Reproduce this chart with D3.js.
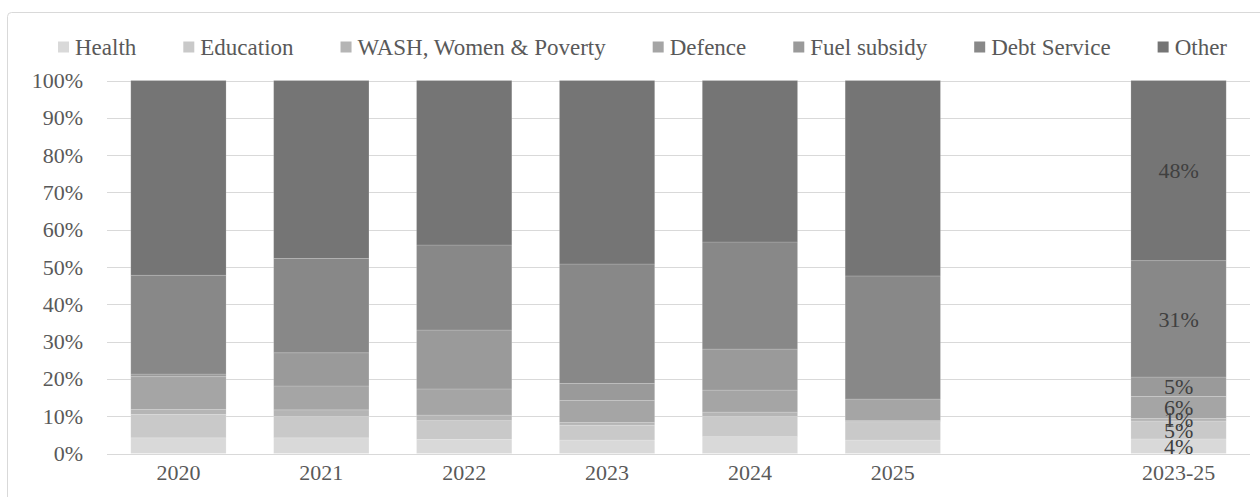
<!DOCTYPE html>
<html>
<head>
<meta charset="utf-8">
<script src="https://cdn.jsdelivr.net/npm/d3@7"></script>
<style>
  html, body { margin: 0; padding: 0; background: #fff; }
  svg { display: block; font-family: "Liberation Serif", "Times New Roman", serif; }
</style>
</head>
<body>
<svg id="chart" width="1260" height="497"></svg>
<script>
// categories along the x axis ("" is the empty spacer slot)
const categories = ['2020', '2021', '2022', '2023', '2024', '2025', '', '2023-25'];
const seriesNames = ['Health', 'Education', 'WASH, Women & Poverty', 'Defence', 'Fuel subsidy', 'Debt Service', 'Other'];
const seriesColors = ['#d9d9d9', '#c9c9c9', '#b5b5b5', '#a5a5a5', '#9a9a9a', '#888888', '#757575'];

// share of spending (%) per series, one value per category
const health    = [4.2, 4.2, 3.8, 3.6, 4.5, 3.6, 0, 3.9];
const education = [6.3, 5.7, 5.0, 4.0, 5.4, 4.9, 0, 4.8];
const wash      = [1.3, 1.8, 1.5, 0.7, 1.2, 0.3, 0, 0.7];
const defence   = [8.8, 6.4, 7.0, 5.9, 5.9, 5.8, 0, 5.9];
const fuel      = [0.7, 8.9, 15.8, 4.6, 11.0, 0.0, 0, 5.2];
const debt      = [26.5, 25.3, 22.8, 32.0, 28.7, 33.0, 0, 31.2];
const other     = [52.2, 47.7, 44.1, 49.2, 43.3, 52.4, 0, 48.3];

// which category gets data labels
const labelledCategory = '2023-25';
const yTicks = [0, 10, 20, 30, 40, 50, 60, 70, 80, 90, 100];

const seriesValues = [health, education, wash, defence, fuel, debt, other];

const svg = d3.select('#chart');
const margin = { left: 107, top: 80.5, bottom: 43.5 };
const plotRight = 1250;
const plotBottom = 497 - margin.bottom;
const fontSize = 22;

// chart outline
svg.append('rect')
  .attr('x', 7.5).attr('y', 12.5)
  .attr('width', 1300).attr('height', 600)
  .attr('rx', 4)
  .attr('fill', 'none')
  .attr('stroke', '#d9d9d9');

// build rows for the stack, normalised to 100%
const rows = categories.map((c, i) => {
  const row = { cat: c, key: c || ('blank' + i) };
  const total = d3.sum(seriesValues, s => s[i]);
  seriesNames.forEach((n, j) => { row[n] = total ? seriesValues[j][i] / total * 100 : 0; });
  return row;
});

const x = d3.scaleBand()
  .domain(rows.map(r => r.key))
  .range([margin.left, plotRight])
  .paddingInner(0.333)
  .paddingOuter(0.1665);

const y = d3.scaleLinear()
  .domain([0, 100])
  .range([plotBottom, margin.top]);

// gridlines
svg.append('g')
  .selectAll('line')
  .data(yTicks)
  .join('line')
  .attr('x1', margin.left).attr('x2', plotRight)
  .attr('y1', d => Math.round(y(d)) + 0.5)
  .attr('y2', d => Math.round(y(d)) + 0.5)
  .attr('stroke', '#d9d9d9')
  .attr('stroke-width', 1);

// y axis labels
const yAxis = d3.axisLeft(y).tickValues(yTicks).tickFormat(d => d + '%').tickSize(0).tickPadding(0);
svg.append('g')
  .attr('transform', `translate(${margin.left - 24},0)`)
  .call(yAxis)
  .call(g => g.select('.domain').remove())
  .call(g => g.selectAll('text')
    .attr('fill', '#595959')
    .attr('font-size', fontSize)
    .attr('font-family', '"Liberation Serif", "Times New Roman", serif'));

// stacked bars
const stack = d3.stack().keys(seriesNames);
const layers = stack(rows);

const layerG = svg.append('g')
  .selectAll('g')
  .data(layers)
  .join('g')
  .attr('fill', (d, i) => seriesColors[i]);

layerG.selectAll('rect')
  .data(d => d)
  .join('rect')
  .attr('x', d => x(d.data.key))
  .attr('width', x.bandwidth())
  .attr('y', d => y(d[1]))
  .attr('height', d => y(d[0]) - y(d[1]))
  .attr('stroke', '#ffffff')
  .attr('stroke-opacity', 0.2)
  .attr('stroke-width', 0.8);

// data labels for the average bar
layers.forEach(layer => {
  const d = layer.find(p => p.data.cat === labelledCategory);
  if (!d) return;
  const v = d[1] - d[0];
  svg.append('text')
    .attr('x', x(d.data.key) + x.bandwidth() / 2)
    .attr('y', (y(d[0]) + y(d[1])) / 2)
    .attr('dy', '0.35em')
    .attr('text-anchor', 'middle')
    .attr('font-size', fontSize)
    .attr('fill', '#404040')
    .text(Math.round(v) + '%');
});

// x axis labels
const xAxis = d3.axisBottom(x).tickFormat(k => rows.find(r => r.key === k).cat).tickSize(0).tickPadding(0);
svg.append('g')
  .attr('transform', `translate(0,${plotBottom + 11})`)
  .call(xAxis)
  .call(g => g.select('.domain').remove())
  .call(g => g.selectAll('text')
    .attr('fill', '#595959')
    .attr('font-size', fontSize)
    .attr('font-family', '"Liberation Serif", "Times New Roman", serif'));

// legend, spread between the first and last item positions
const legendLeft = 58, legendRight = 1227, legendY = 47;
const sq = 11, sqGap = 6;
const legend = svg.append('g');
const items = legend.selectAll('g')
  .data(seriesNames)
  .join('g');
items.append('rect')
  .attr('width', sq).attr('height', sq)
  .attr('y', legendY - sq / 2)
  .attr('fill', (d, i) => seriesColors[i]);
items.append('text')
  .attr('x', sq + sqGap)
  .attr('y', legendY)
  .attr('dy', '0.35em')
  .attr('font-size', 23)
  .attr('fill', '#595959')
  .text(d => d);
const widths = [];
items.each(function () { widths.push(sq + sqGap + this.querySelector('text').getComputedTextLength()); });
const gap = (legendRight - legendLeft - d3.sum(widths)) / (widths.length - 1);
let cx = legendLeft;
items.attr('transform', (d, i) => { const t = `translate(${cx},0)`; cx += widths[i] + gap; return t; });
</script>
</body>
</html>
